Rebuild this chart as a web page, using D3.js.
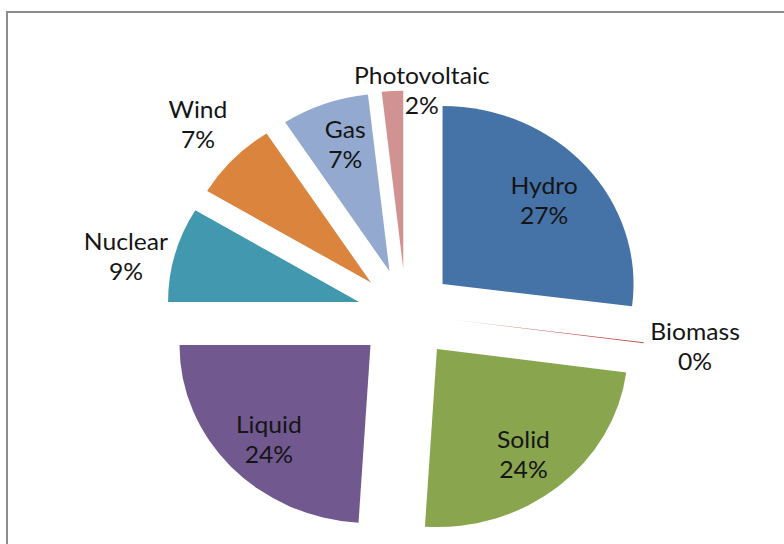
<!DOCTYPE html>
<html>
<head>
<meta charset="utf-8">
<script src="https://cdn.jsdelivr.net/npm/d3@7"></script>
<style>
  body { margin: 0; background: #fff; }
  text { font-family: Lato, "Open Sans", sans-serif; font-size: 23px; fill: #151515; }
</style>
</head>
<body>
<script>
// chart data (share of production, %)
var sources = ["Hydro", "Biomass", "Solid", "Liquid", "Nuclear", "Wind", "Gas", "Photovoltaic"];
var shares = [27.0, 0.1, 23.9, 24.0, 8.6, 7.2, 7.4, 1.8];
var colors = ["#4572A7", "#C0504D", "#89A54E", "#71588F", "#4198AF", "#DB843D", "#93A9CF", "#D19392"];
// labels that sit outside their slice
var outsideLabels = ["Biomass", "Nuclear", "Wind", "Photovoltaic"];

var svgWidth = 784;
var svgHeight = 544;

// pie geometry (picture is slightly stretched horizontally)
var cx = 406, cy = 314;
var radius = 178;
var stretch = 1.073;
var explode = 0.255;

// small hand nudges for labels excel pushed around
var labelNudge = {
  "Photovoltaic": [32, 43], "Nuclear": [-3, 13], "Biomass": [4, -3],
  "Wind": [-1, -4], "Solid": [-2, 4], "Gas": [3, -5], "Liquid": [0, 5], "Hydro": [-3, 2]
};

var svg = d3.select("body")
  .append("svg")
  .attr("width", svgWidth)
  .attr("height", svgHeight);

// chart frame, runs off the right and bottom of the picture
svg.append("rect")
  .attr("x", 7)
  .attr("y", 12)
  .attr("width", 820)
  .attr("height", 600)
  .attr("fill", "none")
  .attr("stroke", "#8c8c8c")
  .attr("stroke-width", 2);

var data = sources.map(function(s, i) {
  return { name: s, value: shares[i], color: colors[i] };
});

var pie = d3.pie().sort(null).value(d => d.value);
var arcs = pie(data);

var arc = d3.arc().innerRadius(0).outerRadius(radius);

var pieGroup = svg.append("g")
  .attr("transform", `translate(${cx}, ${cy}) scale(${stretch}, 1)`);

function mid(d) { return (d.startAngle + d.endAngle) / 2; }

pieGroup.selectAll("path")
  .data(arcs)
  .enter()
  .append("path")
  .attr("transform", function(d) {
    var m = mid(d);
    var off = explode * radius;
    return `translate(${off * Math.sin(m)}, ${-off * Math.cos(m)})`;
  })
  .attr("d", arc)
  .attr("fill", d => d.data.color);

// data labels: name + rounded percent
var labels = svg.selectAll(".lbl")
  .data(arcs)
  .enter()
  .append("g")
  .attr("class", "lbl")
  .attr("transform", function(d) {
    var m = mid(d);
    var outside = outsideLabels.indexOf(d.data.name) >= 0;
    var r = radius * (explode + (outside ? 1.25 : 0.73));
    var x = cx + stretch * r * Math.sin(m);
    var y = cy - r * Math.cos(m);
    var n = labelNudge[d.data.name];
    if (n) { x += n[0]; y += n[1]; }
    return `translate(${x}, ${y}) scale(${stretch}, 1)`;
  });

labels.append("text")
  .attr("text-anchor", "middle")
  .attr("dominant-baseline", "central")
  .attr("y", -15)
  .text(d => d.data.name);

labels.append("text")
  .attr("text-anchor", "middle")
  .attr("dominant-baseline", "central")
  .attr("y", 15)
  .text(d => Math.round(d.data.value) + "%");
</script>
</body>
</html>
